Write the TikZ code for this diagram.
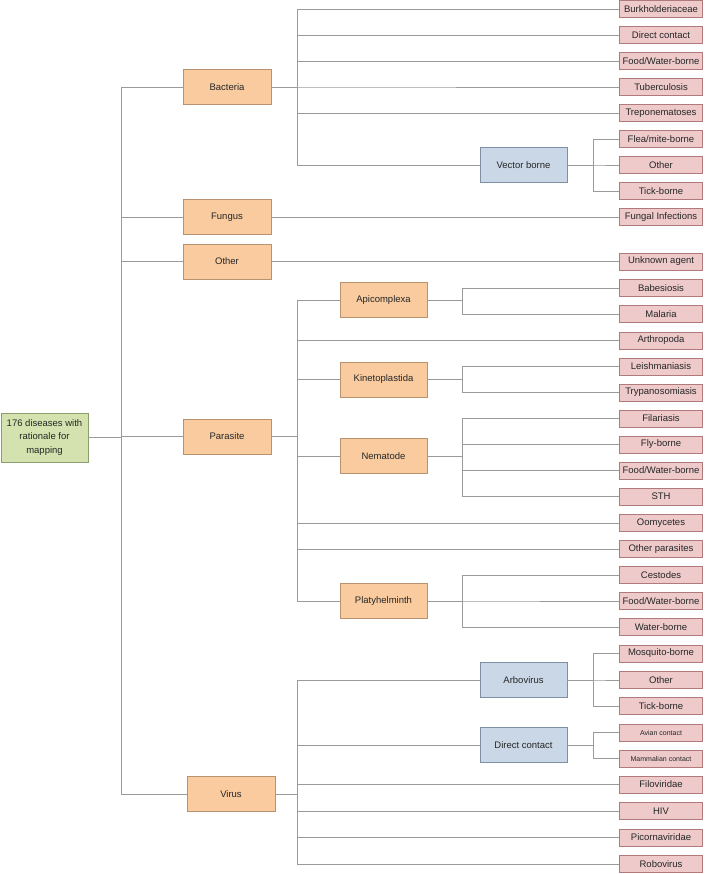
\documentclass[tikz,border=0pt]{standalone}
\usepackage{fontspec}
\setmainfont{Liberation Sans}
\definecolor{dmorange}{HTML}{F9CB9F}
\definecolor{dmorangeline}{HTML}{B8916F}
\definecolor{dmblue}{HTML}{C9D7E6}
\definecolor{dmblueline}{HTML}{7F8FA3}
\definecolor{dmpink}{HTML}{EECACA}
\definecolor{dmpinkline}{HTML}{B07A7A}
\definecolor{dmgreen}{HTML}{D3E2AE}
\definecolor{dmgreenline}{HTML}{8C9E6C}
\definecolor{dmlink}{HTML}{9A9A9A}
\definecolor{dmtext}{HTML}{262626}
\usetikzlibrary{positioning, calc}

\begin{document}
\begin{tikzpicture}[x=1pt, y=-1pt,
  root/.style={draw=dmgreenline, fill=dmgreen, minimum width=87pt, minimum height=49pt,
               font=\fontsize{9.5}{13.5}\selectfont, align=center, inner sep=1pt, text=dmtext},
  grp/.style={draw=dmorangeline, fill=dmorange, minimum width=88pt, minimum height=35pt,
              font=\fontsize{9.5}{11}\selectfont, inner sep=1pt, text=dmtext},
  sub/.style={grp, minimum width=87pt},
  vec/.style={draw=dmblueline, fill=dmblue, minimum width=87pt, minimum height=35pt,
              font=\fontsize{9.5}{11}\selectfont, inner sep=1pt, text=dmtext},
  leaf/.style={draw=dmpinkline, fill=dmpink, minimum width=83pt, minimum height=17pt,
               font=\fontsize{9.5}{11}\selectfont, inner sep=1pt, text=dmtext},
  tiny/.style={leaf, font=\fontsize{7}{8}\selectfont},
  link/.style={draw=dmlink, line width=0.8pt},
]
  \useasboundingbox (0,0) rectangle (707,874);

  % Root
  \node[root] (root) at (44.5,437.5) {176 diseases with\\rationale for\\mapping};

  % Categories
  \node[grp] (bac) at (227,87) {Bacteria};
  \node[grp] (fun) at (227,217) {Fungus};
  \node[grp] (oth) at (227,261.5) {Other};
  \node[grp] (par) at (227,436.5) {Parasite};
  \node[grp] (vir) at (231,794) {Virus};

  % Sub groups
  \node[vec] (vbor) at (523.5,165) {Vector borne};
  \node[sub] (api) at (383.5,300) {Apicomplexa};
  \node[sub] (kin) at (383.5,379.5) {Kinetoplastida};
  \node[sub] (nem) at (383.5,456) {Nematode};
  \node[sub] (pla) at (383.5,601) {Platyhelminth};
  \node[vec] (arb) at (523.5,680) {Arbovirus};
  \node[vec] (dcv) at (523.5,745) {Direct contact};

  % Leaves
  \node[leaf] (burk) at (661,9) {Burkholderiaceae};
  \node[leaf] (dcb) at (661,35) {Direct contact};
  \node[leaf] (fwb) at (661,61) {Food/Water-borne};
  \node[leaf] (tub) at (661,87) {Tuberculosis};
  \node[leaf] (trep) at (661,113) {Treponematoses};
  \node[leaf] (flea) at (661,139) {Flea/mite-borne};
  \node[leaf] (vbo) at (661,165) {Other};
  \node[leaf] (vbt) at (661,191) {Tick-borne};
  \node[leaf] (fung) at (661,217) {Fungal Infections};
  \node[leaf] (unk) at (661,261.5) {Unknown agent};
  \node[leaf] (babe) at (661,288) {Babesiosis};
  \node[leaf] (mala) at (661,314) {Malaria};
  \node[leaf] (arth) at (661,340.5) {Arthropoda};
  \node[leaf] (leish) at (661,366.5) {Leishmaniasis};
  \node[leaf] (tryp) at (661,392.5) {Trypanosomiasis};
  \node[leaf] (fila) at (661,418.5) {Filariasis};
  \node[leaf] (fly) at (661,444.5) {Fly-borne};
  \node[leaf] (nfw) at (661,470.5) {Food/Water-borne};
  \node[leaf] (sth) at (661,496.5) {STH};
  \node[leaf] (oomy) at (661,523) {Oomycetes};
  \node[leaf] (othp) at (661,549) {Other parasites};
  \node[leaf] (cest) at (661,575) {Cestodes};
  \node[leaf] (pfw) at (661,601) {Food/Water-borne};
  \node[leaf] (pwb) at (661,627) {Water-borne};
  \node[leaf] (mosq) at (661,653.5) {Mosquito-borne};
  \node[leaf] (arbo) at (661,680) {Other};
  \node[leaf] (arbt) at (661,706) {Tick-borne};
  \node[tiny] (avian) at (661,732.5) {Avian contact};
  \node[tiny] (mamm) at (661,758.5) {Mammalian contact};
  \node[leaf] (filo) at (661,784.5) {Filoviridae};
  \node[leaf] (hiv) at (661,811) {HIV};
  \node[leaf] (pico) at (661,837.5) {Picornaviridae};
  \node[leaf] (robo) at (661,864) {Robovirus};

  % Connectors
  \foreach \c in {bac,fun,oth,par,vir}
    \draw[link] (root.east) -- ++(33.5,0) |- (\c.west);
  \foreach \c in {burk,dcb,fwb,tub,trep,vbor}
    \draw[link] (bac.east) -- ++(26,0) |- (\c.west);
  \foreach \c in {flea,vbo,vbt}
    \draw[link] (vbor.east) -- ++(26,0) |- (\c.west);
  \draw[link] (fun.east) -- (fung.west);
  \draw[link] (oth.east) -- (unk.west);
  \foreach \c in {api,arth,kin,nem,oomy,othp,pla}
    \draw[link] (par.east) -- ++(26,0) |- (\c.west);
  \foreach \c in {babe,mala}
    \draw[link] (api.east) -- ++(35,0) |- (\c.west);
  \foreach \c in {leish,tryp}
    \draw[link] (kin.east) -- ++(35,0) |- (\c.west);
  \foreach \c in {fila,fly,nfw,sth}
    \draw[link] (nem.east) -- ++(35,0) |- (\c.west);
  \foreach \c in {cest,pfw,pwb}
    \draw[link] (pla.east) -- ++(35,0) |- (\c.west);
  \foreach \c in {arb,dcv,filo,hiv,pico,robo}
    \draw[link] (vir.east) -- ++(22,0) |- (\c.west);
  \foreach \c in {mosq,arbo,arbt}
    \draw[link] (arb.east) -- ++(26,0) |- (\c.west);
  \foreach \c in {avian,mamm}
    \draw[link] (dcv.east) -- ++(26,0) |- (\c.west);
\end{tikzpicture}
\end{document}
